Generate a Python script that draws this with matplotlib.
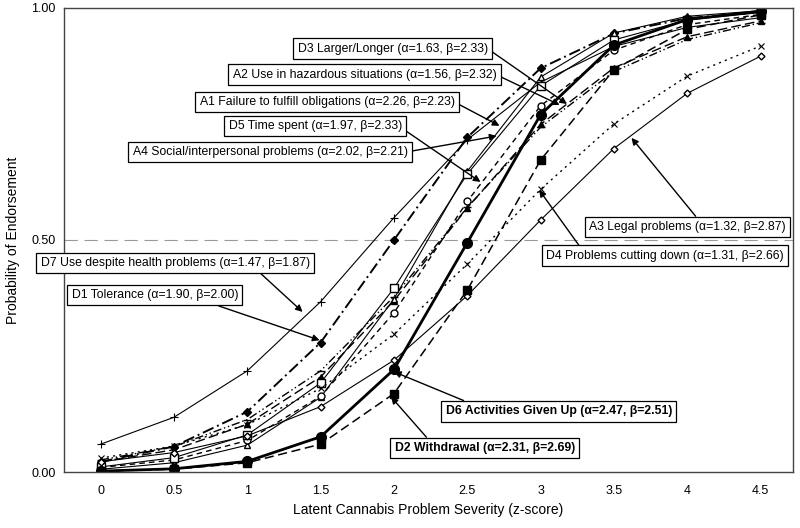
import matplotlib
matplotlib.use("Agg")
import matplotlib.pyplot as plt

plt.rcParams['font.family'] = ['Liberation Sans', 'DejaVu Sans']

# Latent severity points
severity = [0, 0.5, 1, 1.5, 2, 2.5, 3, 3.5, 4, 4.5]
tick_labels = ['0', '0.5', '1', '1.5', '2', '2.5', '3', '3.5', '4', '4.5']

# Probability of endorsement per item
d7_health = [0.060, 0.118, 0.218, 0.367, 0.548, 0.716, 0.840, 0.917, 0.958, 0.979]
d1_tolerance = [0.022, 0.055, 0.130, 0.279, 0.500, 0.721, 0.870, 0.945, 0.978, 0.991]
d3_larger = [0.022, 0.048, 0.103, 0.205, 0.369, 0.569, 0.749, 0.871, 0.938, 0.972]
a2_hazard = [0.026, 0.055, 0.113, 0.218, 0.378, 0.570, 0.743, 0.863, 0.932, 0.968]
a1_failure = [0.006, 0.020, 0.058, 0.161, 0.373, 0.648, 0.851, 0.946, 0.982, 0.994]
d5_time = [0.010, 0.026, 0.068, 0.163, 0.343, 0.583, 0.789, 0.909, 0.964, 0.986]
a4_social = [0.011, 0.031, 0.080, 0.192, 0.396, 0.642, 0.832, 0.931, 0.974, 0.990]
a3_legal = [0.022, 0.042, 0.078, 0.141, 0.241, 0.380, 0.543, 0.697, 0.816, 0.896]
d4_cutting = [0.030, 0.056, 0.102, 0.180, 0.297, 0.448, 0.609, 0.750, 0.853, 0.918]
d6_given_up = [0.002, 0.007, 0.023, 0.076, 0.221, 0.494, 0.770, 0.920, 0.975, 0.993]
d2_withdrawal = [0.002, 0.006, 0.020, 0.060, 0.169, 0.392, 0.672, 0.867, 0.954, 0.985]

fig = plt.figure(figsize=(8, 5.28), dpi=100)
ax = fig.add_axes([0.08, 0.106, 0.911, 0.879])

k = 'black'
ax.plot(severity, d7_health, color=k, lw=0.8, ls='-', marker='+', ms=6, mew=0.8)
ax.plot(severity, d1_tolerance, color=k, lw=1.4, ls=(0, (6, 2, 1, 2)), marker='D', ms=4, mfc=k)
ax.plot(severity, d3_larger, color=k, lw=1.0, ls=(0, (7, 3)), marker='^', ms=5, mfc=k)
ax.plot(severity, a2_hazard, color=k, lw=1.0, ls=(0, (6, 2, 1, 2, 1, 2)), marker='_', ms=6)
ax.plot(severity, a1_failure, color=k, lw=0.8, ls='-', marker='^', ms=5, mfc='white')
ax.plot(severity, d5_time, color=k, lw=1.0, ls=(0, (4, 3)), marker='o', ms=5, mfc='white')
ax.plot(severity, a4_social, color=k, lw=0.8, ls='-', marker='s', ms=5.5, mfc='white')
ax.plot(severity, a3_legal, color=k, lw=0.8, ls='-', marker='D', ms=3.5, mfc='white')
ax.plot(severity, d4_cutting, color=k, lw=1.0, ls=(0, (1.5, 3)), marker='x', ms=5, mew=0.8)
ax.plot(severity, d6_given_up, color=k, lw=2.0, ls='-', marker='o', ms=7, mfc=k)
ax.plot(severity, d2_withdrawal, color=k, lw=1.1, ls=(0, (6, 3)), marker='s', ms=5.5, mfc=k)

ax.axhline(0.5, color='#999999', lw=0.8, ls=(0, (12, 6)), zorder=0)

ax.set_xlim(-0.25, 4.72)
ax.set_ylim(0, 1)
ax.set_xticks(severity)
ax.set_xticklabels(tick_labels)
ax.set_yticks([0, 0.5, 1])
ax.set_yticklabels(['0.00', '0.50', '1.00'])
ax.tick_params(length=0, labelsize=9)
ax.tick_params(axis='x', pad=9)
ax.tick_params(axis='y', pad=6)
for s in ax.spines.values():
    s.set_color('#444444')
    s.set_linewidth(1.0)
ax.set_xlabel('Latent Cannabis Problem Severity (z-score)', fontsize=10, labelpad=5)
ax.set_ylabel('Probability of Endorsement', fontsize=10, labelpad=8)

box = dict(boxstyle='square,pad=0.35', fc='white', ec='black', lw=0.9)

def label(text, tip, pos, rel, bold=False):
    ax.annotate(text, xy=tip, xytext=pos, ha='left', va='center',
                fontsize=8.8, fontweight='bold' if bold else 'normal',
                bbox=box, annotation_clip=False, zorder=5,
                arrowprops=dict(arrowstyle='-|>', color='black', lw=1.0,
                                mutation_scale=10, relpos=rel,
                                shrinkA=0, shrinkB=0))

label('D3 Larger/Longer (α=1.63, β=2.33)', (3.18, 0.793), (1.343, 0.912), (1, 0.5))
label('A2 Use in hazardous situations (α=1.56, β=2.32)', (3.13, 0.791), (0.90, 0.856), (1, 0.5))
label('A1 Failure to fulfill obligations (α=2.26, β=2.23)', (2.72, 0.746), (0.675, 0.797), (1, 0.5))
label('D5 Time spent (α=1.97, β=2.33)', (2.59, 0.625), (0.873, 0.746), (1, 0.3))
label('A4 Social/interpersonal problems (α=2.02, β=2.21)', (2.70, 0.724), (0.218, 0.690), (1, 0.5))
label('D7 Use despite health problems (α=1.47, β=1.87)', (1.377, 0.345), (-0.409, 0.450), (0.8, 0))
label('D1 Tolerance (α=1.90, β=2.00)', (1.493, 0.284), (-0.198, 0.381), (0.8, 0))
label('A3 Legal problems (α=1.32, β=2.87)', (3.62, 0.720), (3.333, 0.528), (0.56, 1))
label('D4 Problems cutting down (α=1.31, β=2.66)', (2.99, 0.608), (3.040, 0.466), (0.15, 1))
label('D6 Activities Given Up (α=2.47, β=2.51)', (2.00, 0.216), (2.352, 0.131), (0.13, 1), bold=True)
label('D2 Withdrawal (α=2.31, β=2.69)', (1.98, 0.162), (2.004, 0.052), (0.2, 1), bold=True)

fig.savefig('out.png', dpi=100)
